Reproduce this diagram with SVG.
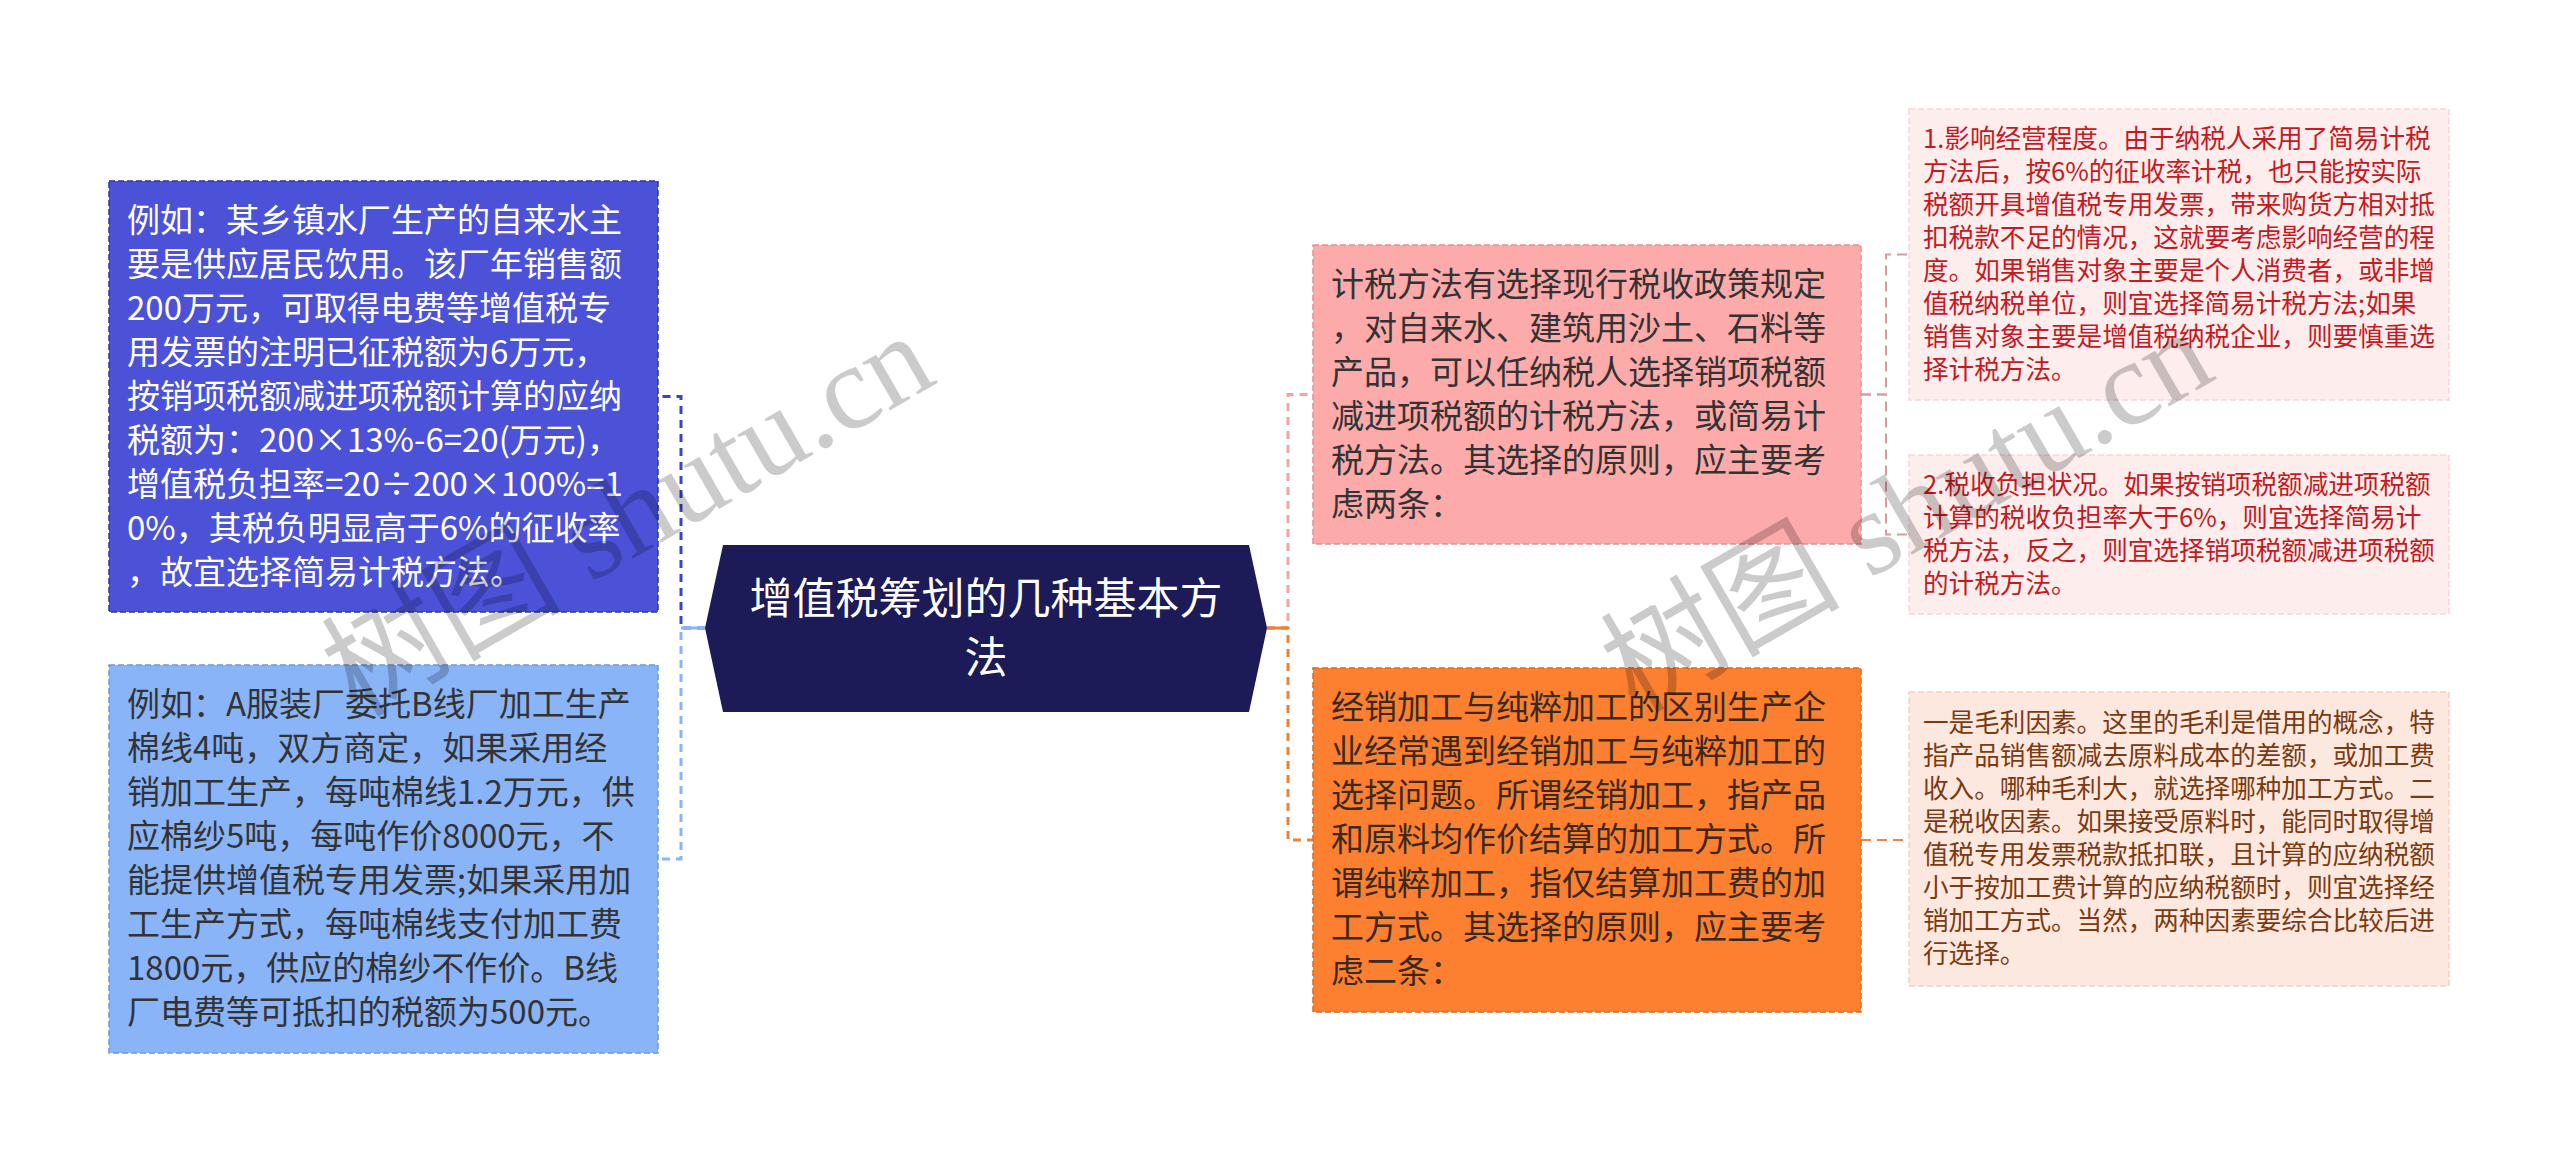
<svg xmlns="http://www.w3.org/2000/svg" width="2560" height="1164" viewBox="0 0 2560 1164">
<style>
.t{font-family:"Noto Sans CJK SC","Noto Sans",sans-serif;}
.big{font-size:33px;}
.sm{font-size:25.6px;}
.conn{fill:none;stroke-width:3;stroke-dasharray:8 6;}
.conn2{fill:none;stroke-width:2;stroke-dasharray:10 6;}
.box{stroke-width:1.5;stroke-dasharray:6 3;}
.wm{font-family:"Liberation Serif","Noto Sans CJK SC",serif;font-size:120px;fill:#000;opacity:0.2;}
</style>
<rect width="2560" height="1164" fill="#ffffff"/>
<g id="connectors">
<path class="conn" stroke="#3C45C0" d="M705,628 H681 V396.5 H658"/>
<path class="conn" stroke="#8AB4F8" d="M705,628 H681 V859 H658"/>
<path fill="none" stroke="#8AB4F8" stroke-width="3" d="M705,628 H681"/>
<path class="conn" stroke="#F4A3A3" d="M1267,628 H1288 V394.5 H1313"/>
<path class="conn" stroke="#EE8038" d="M1267,628 H1288 V840 H1313"/>
<path fill="none" stroke="#EE8038" stroke-width="3" d="M1267,628 H1288"/>
<path class="conn2" stroke="#DC9AA0" d="M1861,394.5 H1886 V254.5 H1909"/>
<path class="conn2" stroke="#DC9AA0" d="M1861,394.5 H1886 V534.5 H1909"/>
<path class="conn2" stroke="#E8894A" d="M1861,840 H1909"/>
</g>
<g id="center">
<polygon points="723,545 1249,545 1267,628 1249,712 723,712 705,628" fill="#1C1B58"/>
<text class="t" font-size="43" fill="#ffffff" text-anchor="middle"><tspan x="986" y="614">增值税筹划的几种基本方</tspan><tspan x="986" y="673">法</tspan></text>
</g>
<g id="node-l1">
<rect class="box" x="109" y="181" width="549" height="431" fill="#4B52D8" stroke="#2E35A8"/>
<text class="t big" fill="#ffffff"><tspan x="127" y="232">例如：某乡镇水厂生产的自来水主</tspan><tspan x="127" y="276">要是供应居民饮用。该厂年销售额</tspan><tspan x="127" y="320">200万元，可取得电费等增值税专</tspan><tspan x="127" y="364">用发票的注明已征税额为6万元，</tspan><tspan x="127" y="408">按销项税额减进项税额计算的应纳</tspan><tspan x="127" y="452">税额为：200×13%-6=20(万元)，</tspan><tspan x="127" y="496">增值税负担率=20÷200×100%=1</tspan><tspan x="127" y="540">0%，其税负明显高于6%的征收率</tspan><tspan x="127" y="584">，故宜选择简易计税方法。</tspan></text>
</g>
<g id="node-l2">
<rect class="box" x="109" y="665" width="549" height="388" fill="#8AB4F8" stroke="#6F98DC"/>
<text class="t big" fill="#333333"><tspan x="127" y="716">例如：A服装厂委托B线厂加工生产</tspan><tspan x="127" y="760">棉线4吨，双方商定，如果采用经</tspan><tspan x="127" y="804">销加工生产，每吨棉线1.2万元，供</tspan><tspan x="127" y="848">应棉纱5吨，每吨作价8000元，不</tspan><tspan x="127" y="892">能提供增值税专用发票;如果采用加</tspan><tspan x="127" y="936">工生产方式，每吨棉线支付加工费</tspan><tspan x="127" y="980">1800元，供应的棉纱不作价。B线</tspan><tspan x="127" y="1024">厂电费等可抵扣的税额为500元。</tspan></text>
</g>
<g id="node-r1">
<rect class="box" x="1313" y="245" width="548" height="299" fill="#FDAAAA" stroke="#E68E8E"/>
<text class="t big" fill="#333333"><tspan x="1331" y="296">计税方法有选择现行税收政策规定</tspan><tspan x="1331" y="340">，对自来水、建筑用沙土、石料等</tspan><tspan x="1331" y="384">产品，可以任纳税人选择销项税额</tspan><tspan x="1331" y="428">减进项税额的计税方法，或简易计</tspan><tspan x="1331" y="472">税方法。其选择的原则，应主要考</tspan><tspan x="1331" y="516">虑两条：</tspan></text>
</g>
<g id="node-r2">
<rect class="box" x="1313" y="668" width="548" height="344" fill="#FD7F30" stroke="#E0681E"/>
<text class="t big" fill="#3A2A1E"><tspan x="1331" y="719">经销加工与纯粹加工的区别生产企</tspan><tspan x="1331" y="763">业经常遇到经销加工与纯粹加工的</tspan><tspan x="1331" y="807">选择问题。所谓经销加工，指产品</tspan><tspan x="1331" y="851">和原料均作价结算的加工方式。所</tspan><tspan x="1331" y="895">谓纯粹加工，指仅结算加工费的加</tspan><tspan x="1331" y="939">工方式。其选择的原则，应主要考</tspan><tspan x="1331" y="983">虑二条：</tspan></text>
</g>
<g id="node-rr1">
<rect class="box" x="1909" y="109" width="540" height="291" fill="#FDEDED" stroke="#F6D8D8"/>
<text class="t sm" fill="#C41A22"><tspan x="1923" y="148">1.影响经营程度。由于纳税人采用了简易计税</tspan><tspan x="1923" y="181">方法后，按6%的征收率计税，也只能按实际</tspan><tspan x="1923" y="214">税额开具增值税专用发票，带来购货方相对抵</tspan><tspan x="1923" y="247">扣税款不足的情况，这就要考虑影响经营的程</tspan><tspan x="1923" y="280">度。如果销售对象主要是个人消费者，或非增</tspan><tspan x="1923" y="313">值税纳税单位，则宜选择简易计税方法;如果</tspan><tspan x="1923" y="346">销售对象主要是增值税纳税企业，则要慎重选</tspan><tspan x="1923" y="379">择计税方法。</tspan></text>
</g>
<g id="node-rr2">
<rect class="box" x="1909" y="455" width="540" height="159" fill="#FDEDED" stroke="#F6D8D8"/>
<text class="t sm" fill="#C41A22"><tspan x="1923" y="494">2.税收负担状况。如果按销项税额减进项税额</tspan><tspan x="1923" y="527">计算的税收负担率大于6%，则宜选择简易计</tspan><tspan x="1923" y="560">税方法，反之，则宜选择销项税额减进项税额</tspan><tspan x="1923" y="593">的计税方法。</tspan></text>
</g>
<g id="node-rr3">
<rect class="box" x="1909" y="692" width="540" height="294" fill="#FCE8DE" stroke="#F4D2C2"/>
<text class="t sm" fill="#7A3A12"><tspan x="1923" y="732">一是毛利因素。这里的毛利是借用的概念，特</tspan><tspan x="1923" y="765">指产品销售额减去原料成本的差额，或加工费</tspan><tspan x="1923" y="798">收入。哪种毛利大，就选择哪种加工方式。二</tspan><tspan x="1923" y="831">是税收因素。如果接受原料时，能同时取得增</tspan><tspan x="1923" y="864">值税专用发票税款抵扣联，且计算的应纳税额</tspan><tspan x="1923" y="897">小于按加工费计算的应纳税额时，则宜选择经</tspan><tspan x="1923" y="930">销加工方式。当然，两种因素要综合比较后进</tspan><tspan x="1923" y="963">行选择。</tspan></text>
</g>
<g id="watermark">
<text class="wm" text-anchor="middle" transform="translate(648,550) rotate(-30)">树图 shutu.cn</text>
<text class="wm" text-anchor="middle" transform="translate(1927,546) rotate(-30)">树图 shutu.cn</text>
</g>
</svg>
